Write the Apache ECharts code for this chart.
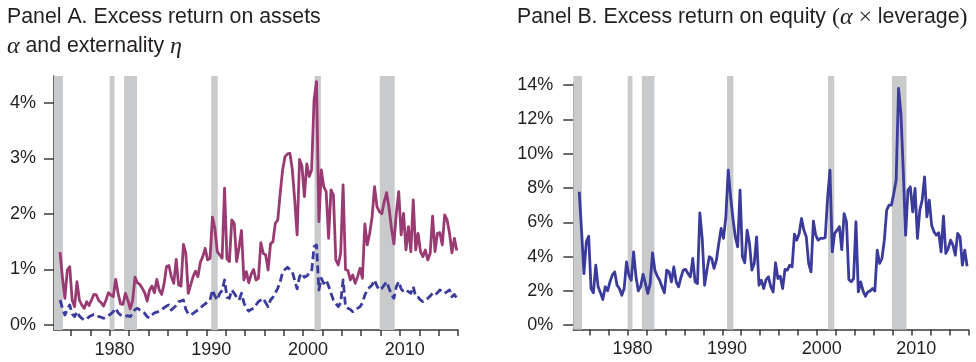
<!DOCTYPE html>
<html>
<head>
<meta charset="utf-8">
<script src="https://cdn.jsdelivr.net/npm/echarts@6/dist/echarts.min.js"></script>
<style>
  html, body { margin: 0; padding: 0; background: #ffffff; }
  #chart { width: 976px; height: 362px; }
</style>
</head>
<body>
<div id="chart"></div>
<script>
// Quarterly observations 1974Q4 - 2015Q4, plotted at mid-quarter.
const firstQuarter = 1974.875;
const quarterStep = 0.25;

// Panel A: excess return on assets (alpha), percent
const alphaAssets = [
  1.31, 0.85, 0.48, 0.99, 1.05, 0.45, 0.33, 0.78, 0.45, 0.36,
  0.30, 0.42, 0.35, 0.45, 0.55, 0.54, 0.44, 0.40, 0.34, 0.45,
  0.58, 0.54, 0.51, 0.82, 0.57, 0.38, 0.37, 0.57, 0.45, 0.29,
  0.44, 0.86, 0.76, 0.73, 0.66, 0.58, 0.43, 0.63, 0.70, 0.58,
  0.82, 0.63, 0.55, 0.74, 1.05, 1.07, 0.87, 0.75, 1.18, 0.72,
  0.70, 1.45, 1.29, 0.57, 0.72, 0.87, 0.97, 0.87, 1.13, 1.23,
  1.38, 1.17, 1.20, 1.94, 1.74, 1.32, 1.26, 1.20, 2.46, 1.19,
  1.14, 1.89, 1.83, 1.14, 1.40, 1.70, 0.81, 0.96, 0.76, 0.91,
  1.00, 0.81, 0.84, 1.48, 1.29, 1.26, 0.99, 1.46, 1.50, 1.83,
  1.89, 2.37, 2.79, 3.03, 3.08, 3.09, 2.80, 2.25, 1.62, 2.98,
  2.86, 2.31, 2.90, 2.67, 2.79, 4.05, 4.38, 1.86, 2.79, 2.49,
  2.40, 1.56, 2.43, 2.34, 1.17, 1.08, 1.29, 2.52, 1.00, 0.98,
  0.81, 0.90, 0.75, 0.87, 1.02, 0.84, 1.82, 1.44, 1.65, 1.95,
  2.49, 2.13, 2.04, 2.00, 2.22, 2.38, 2.10, 1.74, 1.46, 2.01,
  2.40, 1.62, 2.01, 1.35, 1.77, 1.32, 2.25, 1.35, 1.65, 1.32,
  1.23, 1.35, 1.17, 1.29, 1.96, 1.32, 1.65, 1.66, 1.44, 1.98,
  1.89, 1.65, 1.30, 1.56, 1.34
];

// Panel A: externality (eta), percent
const etaExternality = [
  0.45, 0.30, 0.18, 0.28, 0.36, 0.20, 0.15, 0.24, 0.16, 0.12,
  0.09, 0.11, 0.15, 0.17, 0.19, 0.18, 0.15, 0.14, 0.12, 0.14,
  0.17, 0.20, 0.24, 0.30, 0.22, 0.18, 0.16, 0.15, 0.17, 0.15,
  0.20, 0.28, 0.30, 0.27, 0.24, 0.21, 0.15, 0.13, 0.18, 0.22,
  0.23, 0.25, 0.28, 0.31, 0.34, 0.36, 0.27, 0.31, 0.35, 0.42,
  0.43, 0.45, 0.28, 0.20, 0.18, 0.21, 0.24, 0.27, 0.30, 0.35,
  0.38, 0.42, 0.45, 0.63, 0.52, 0.45, 0.57, 0.62, 0.81, 0.50,
  0.48, 0.63, 0.57, 0.50, 0.45, 0.57, 0.40, 0.30, 0.25, 0.28,
  0.30, 0.36, 0.42, 0.45, 0.48, 0.40, 0.33, 0.45, 0.50, 0.58,
  0.66, 0.78, 0.95, 1.00, 1.04, 1.00, 0.96, 0.80, 0.65, 0.87,
  0.93, 0.86, 0.88, 0.93, 0.96, 1.41, 1.44, 0.63, 0.84, 0.75,
  0.81, 0.70, 0.57, 0.45, 0.39, 0.33, 0.40, 0.81, 0.33, 0.30,
  0.28, 0.24, 0.26, 0.30, 0.33, 0.40, 0.54, 0.63, 0.68, 0.72,
  0.81, 0.70, 0.63, 0.66, 0.72, 0.78, 0.66, 0.55, 0.48, 0.69,
  0.78, 0.65, 0.60, 0.63, 0.60, 0.57, 0.69, 0.51, 0.50, 0.45,
  0.42, 0.45, 0.48, 0.52, 0.57, 0.54, 0.58, 0.63, 0.60, 0.57,
  0.60, 0.63, 0.51, 0.55, 0.48
];

// Panel B: excess return on equity (alpha x leverage), percent
const alphaLeverage = [
  7.78, 5.50, 3.01, 4.86, 5.19, 2.14, 1.89, 3.50, 2.24, 1.89,
  1.50, 2.24, 2.00, 2.53, 2.92, 3.11, 2.33, 2.14, 1.75, 2.14,
  3.69, 2.92, 2.62, 4.28, 2.82, 2.00, 2.27, 2.97, 2.43, 1.85,
  2.43, 4.22, 3.21, 2.86, 2.62, 2.24, 1.89, 3.21, 3.11, 2.53,
  3.40, 2.53, 2.24, 2.78, 3.21, 3.25, 3.01, 2.82, 3.89, 2.53,
  2.43, 6.55, 5.06, 2.33, 3.21, 3.99, 3.90, 3.31, 3.79, 4.76,
  5.64, 5.06, 6.32, 9.04, 7.49, 6.22, 5.15, 4.57, 7.87, 3.99,
  3.64, 5.54, 4.76, 3.21, 3.60, 5.15, 2.33, 2.62, 2.14, 2.66,
  2.82, 2.24, 1.94, 3.64, 2.72, 2.86, 2.14, 3.25, 3.21, 3.50,
  3.40, 5.31, 4.96, 5.35, 6.22, 5.54, 5.15, 3.60, 3.11, 6.07,
  5.25, 4.96, 5.06, 5.06, 5.10, 7.40, 9.04, 4.28, 5.35, 5.54,
  5.74, 4.41, 6.51, 6.03, 2.66, 2.53, 2.72, 6.03, 1.94, 2.53,
  2.00, 1.69, 1.94, 2.00, 2.14, 2.00, 4.37, 3.60, 3.89, 4.96,
  6.71, 7.00, 7.00, 7.68, 8.46, 13.80, 12.35, 9.04, 5.25, 7.87,
  8.07, 6.61, 7.97, 5.06, 6.71, 7.30, 8.65, 6.32, 7.29, 5.83,
  5.44, 5.25, 5.39, 4.28, 6.36, 4.18, 4.47, 4.96, 4.67, 4.08,
  5.35, 5.15, 3.50, 4.37, 3.44
];

// NBER recessions (fractional years)
const recessionStart = [1973.92, 1980.00, 1981.50, 1990.50, 2001.17, 2007.92];
const recessionEnd   = [1975.17, 1980.50, 1982.83, 1991.17, 2001.83, 2009.46];

// Axis ticks and labels
const xTickYears = [1976, 1978, 1980, 1982, 1984, 1986, 1988, 1990, 1992, 1994, 1996,
                    1998, 2000, 2002, 2004, 2006, 2008, 2010, 2012, 2014, 2016];
const xLabelYears = [1980, 1990, 2000, 2010];
const yTicksA = [0, 1, 2, 3, 4];
const yTicksB = [0, 2, 4, 6, 8, 10, 12, 14];

// ---------------------------------------------------------------
const xMin = 1974.25, xMax = 2016;
const sansFont = '"Liberation Sans", Arial, Helvetica, sans-serif';
const serifFont = '"Liberation Serif", "DejaVu Serif", serif';
const inkColor = '#231f20';
const axisColor = '#3a3a3a';
const purple = '#993a72';
const blue = '#3b3b9c';
const bandGrey = '#c9cacc';

const toPairs = vals => vals.map((v, i) => [firstQuarter + i * quarterStep, v]);
const bandAreas = recessionStart.map((s, i) => [
  { xAxis: Math.max(s, xMin) }, { xAxis: recessionEnd[i] }
]);
const bandMarkArea = {
  silent: true,
  itemStyle: { color: bandGrey, opacity: 1 },
  label: { show: false },
  data: bandAreas
};

function timeAxis(gridIndex) {
  return {
    type: 'value', gridIndex, min: xMin, max: xMax,
    axisLine: { show: true, onZero: false, lineStyle: { color: axisColor, width: 1.5 } },
    axisTick: { show: true, customValues: xTickYears, length: 6, inside: false,
                lineStyle: { color: axisColor, width: 1.5 } },
    axisLabel: {
      show: true, customValues: xLabelYears.map(y => y + 0.5),
      formatter: v => String(Math.floor(v)),
      fontFamily: sansFont, fontSize: 18, color: inkColor, margin: 11
    },
    splitLine: { show: false }
  };
}

function percentAxis(gridIndex, min, max, ticks, margin) {
  return {
    type: 'value', gridIndex, min, max,
    axisLine: { show: true, onZero: false, lineStyle: { color: axisColor, width: 1.5 } },
    axisTick: { show: true, customValues: ticks, length: 10, inside: false,
                lineStyle: { color: axisColor, width: 1.5 } },
    axisLabel: {
      show: true, customValues: ticks, formatter: v => v + '%',
      fontFamily: sansFont, fontSize: 18, color: inkColor, margin
    },
    splitLine: { show: false }
  };
}

const chart = echarts.init(document.getElementById('chart'), null, { renderer: 'canvas' });

chart.setOption({
  animation: false,
  backgroundColor: '#ffffff',
  textStyle: { fontFamily: sansFont },
  title: [
    {
      left: 7, top: 3, padding: 0,
      text: 'Panel A. Excess return on assets\n{it|α} and externality {it|η}',
      textStyle: {
        fontFamily: sansFont, fontSize: 21.3, fontWeight: 'normal', color: inkColor, lineHeight: 29,
        rich: { it: { fontFamily: serifFont, fontStyle: 'italic', fontSize: 24, color: inkColor, lineHeight: 29 } }
      }
    },
    {
      left: 517, top: 3, padding: 0,
      text: 'Panel B. Excess return on equity {sf|(}{it|α} {sf|×} leverage{sf|)}',
      textStyle: {
        fontFamily: sansFont, fontSize: 21.3, fontWeight: 'normal', color: inkColor, lineHeight: 29,
        rich: {
          it: { fontFamily: serifFont, fontStyle: 'italic', fontSize: 24, color: inkColor, lineHeight: 29 },
          sf: { fontFamily: serifFont, fontSize: 24, color: inkColor, lineHeight: 29 }
        }
      }
    }
  ],
  grid: [
    { left: 54, top: 76, width: 404, height: 254, containLabel: false, outerBoundsMode: 'none' },
    { left: 573.3, top: 83, width: 395, height: 246.5, containLabel: false, outerBoundsMode: 'none' },
    { left: 573.3, top: 76, width: 395, height: 253.5, containLabel: false, outerBoundsMode: 'none' }
  ],
  xAxis: [
    timeAxis(0),
    timeAxis(1),
    { type: 'value', gridIndex: 2, min: xMin, max: xMax, show: false }
  ],
  yAxis: [
    percentAxis(0, -0.09, 4.48, yTicksA, 18),
    percentAxis(1, -0.25, 14.12, yTicksB, 20),
    { type: 'value', gridIndex: 2, min: 0, max: 1, show: false }
  ],
  series: [
    {
      name: 'recessions B', type: 'line', xAxisIndex: 2, yAxisIndex: 2,
      data: [], z: 0, silent: true, markArea: bandMarkArea
    },
    {
      name: 'alpha', type: 'line', xAxisIndex: 0, yAxisIndex: 0,
      data: toPairs(alphaAssets), showSymbol: false, symbol: 'none', z: 3,
      lineStyle: { color: purple, width: 2.8, join: 'round' },
      markArea: bandMarkArea
    },
    {
      name: 'eta', type: 'line', xAxisIndex: 0, yAxisIndex: 0,
      data: toPairs(etaExternality), showSymbol: false, symbol: 'none', z: 4,
      lineStyle: { color: blue, width: 2.8, type: [8, 4], join: 'round' }
    },
    {
      name: 'alpha x leverage', type: 'line', xAxisIndex: 1, yAxisIndex: 1,
      data: toPairs(alphaLeverage), showSymbol: false, symbol: 'none', z: 3,
      lineStyle: { color: blue, width: 2.8, join: 'round' }
    }
  ]
});
</script>
</body>
</html>
